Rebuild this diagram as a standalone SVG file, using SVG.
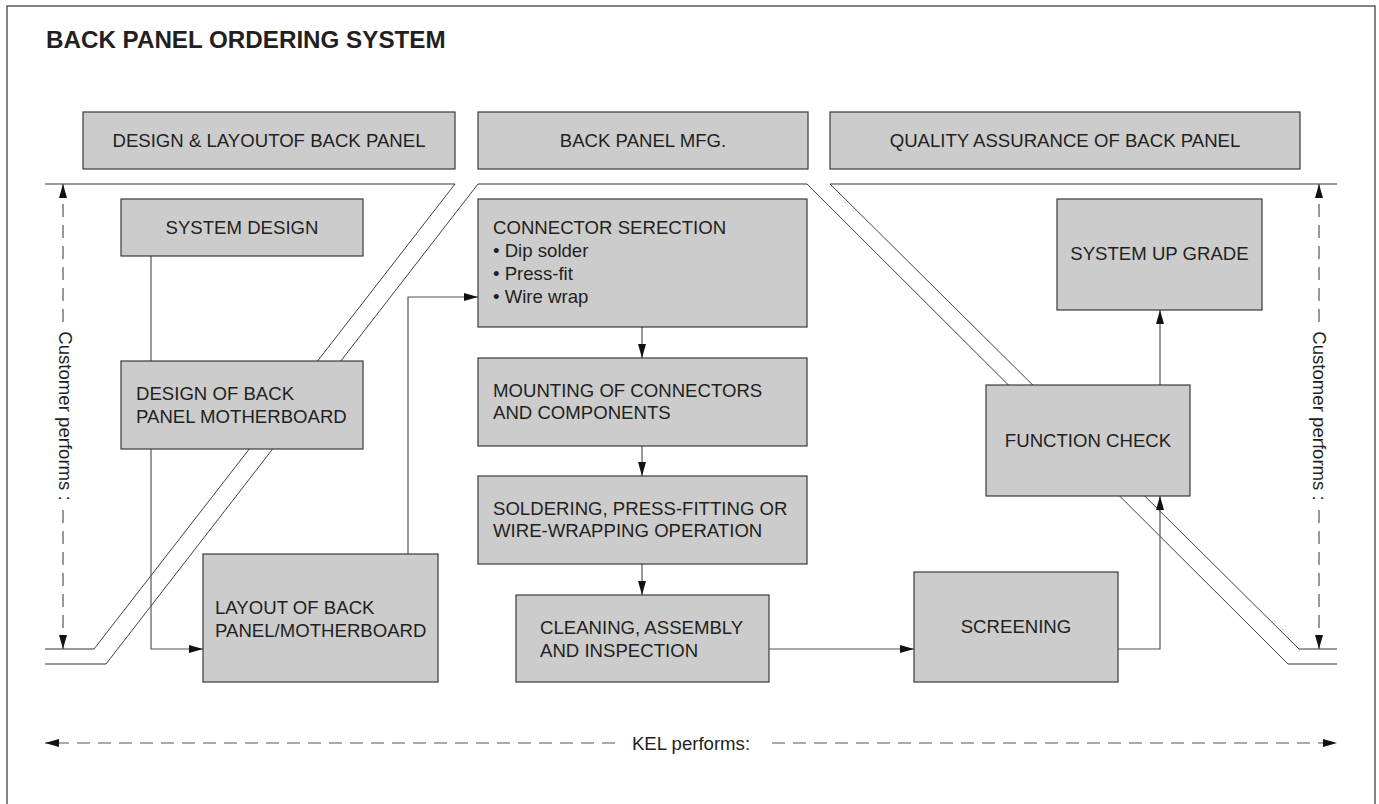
<svg xmlns="http://www.w3.org/2000/svg" width="1379" height="804" viewBox="0 0 1379 804">
<style>
text{font-family:"Liberation Sans",Arial,Helvetica,sans-serif;fill:#231f20;font-size:18.6px}
.title{font-weight:bold;font-size:24.2px}
.box{fill:#cccccc;stroke:#3a3a3a;stroke-width:1.2}
.hline{fill:none;stroke:#7a7a7a;stroke-width:1.6}
.diag{fill:none;stroke:#2a2a2a;stroke-width:0.9}
.conn{fill:none;stroke:#555;stroke-width:1.2}
.dash{fill:none;stroke:#555;stroke-width:1.2;stroke-dasharray:13 8}
.c{text-anchor:middle}
</style>
<defs>
<marker id="arr" viewBox="0 0 14 8" refX="14" refY="4" markerWidth="14" markerHeight="8" markerUnits="userSpaceOnUse" orient="auto"><path d="M0,0 L14,4 L0,8 z" fill="#111"/></marker>
</defs>
<rect x="7" y="6" width="1368" height="810" fill="#fff" stroke="#333" stroke-width="1.2"/>
<text class="title" x="46" y="48">BACK PANEL ORDERING SYSTEM</text>

<g id="regions">
<path class="hline" d="M45,184 H455 M94,649 H45 M45,664 H106 M478,184 H807 M1288,664 H1337 M1337,184 H830 M1299,649 H1337"/>
<path class="diag" d="M455,184 L94,649 M106,664 L478,184 M807,184 L1288,664 M830,184 L1299,649"/>
</g>

<g id="header-design">
<rect class="box" x="83" y="112" width="372" height="57"/>
<text class="c" x="269" y="147">DESIGN &amp; LAYOUTOF BACK PANEL</text>
</g>
<g id="header-mfg">
<rect class="box" x="478" y="112" width="330" height="57"/>
<text class="c" x="643" y="147">BACK PANEL MFG.</text>
</g>
<g id="header-qa">
<rect class="box" x="830" y="112" width="470" height="57"/>
<text class="c" x="1065" y="147">QUALITY ASSURANCE OF BACK PANEL</text>
</g>

<g id="connectors">
<line class="conn" x1="151" y1="256" x2="151" y2="361"/>
<path class="conn" d="M151,449 V649 H203" marker-end="url(#arr)"/>
<path class="conn" d="M408,554 V297 H478" marker-end="url(#arr)"/>
<path class="conn" d="M642,327 V358" marker-end="url(#arr)"/>
<path class="conn" d="M642,446 V476" marker-end="url(#arr)"/>
<path class="conn" d="M642,564 V595" marker-end="url(#arr)"/>
<path class="conn" d="M769,649 H914" marker-end="url(#arr)"/>
<path class="conn" d="M1118,649 H1160 V496" marker-end="url(#arr)"/>
<path class="conn" d="M1160,385 V310" marker-end="url(#arr)"/>
<path class="dash" d="M63,322 V184" marker-end="url(#arr)"/>
<path class="dash" d="M63,510 V649" marker-end="url(#arr)"/>
<path class="dash" d="M1319,322 V184" marker-end="url(#arr)"/>
<path class="dash" d="M1319,510 V649" marker-end="url(#arr)"/>
<path class="dash" d="M615,743 H45" marker-end="url(#arr)"/>
<path class="dash" d="M772,743 H1337" marker-end="url(#arr)"/>
</g>

<g id="system-design">
<rect class="box" x="121" y="199" width="242" height="57"/>
<text class="c" x="242" y="233.5">SYSTEM DESIGN</text>
</g>
<g id="design-motherboard">
<rect class="box" x="121" y="361" width="242" height="88"/>
<text x="136" y="400">DESIGN OF BACK</text>
<text x="136" y="423">PANEL MOTHERBOARD</text>
</g>
<g id="layout">
<rect class="box" x="203" y="554" width="235" height="128"/>
<text x="215" y="614">LAYOUT OF BACK</text>
<text x="215" y="637">PANEL/MOTHERBOARD</text>
</g>
<g id="connector-selection">
<rect class="box" x="478" y="199" width="329" height="128"/>
<text x="493" y="234">CONNECTOR SERECTION</text>
<text x="493" y="257">• Dip solder</text>
<text x="493" y="280">• Press-fit</text>
<text x="493" y="303">• Wire wrap</text>
</g>
<g id="mounting">
<rect class="box" x="478" y="358" width="329" height="88"/>
<text x="493" y="397">MOUNTING OF CONNECTORS</text>
<text x="493" y="419">AND COMPONENTS</text>
</g>
<g id="soldering">
<rect class="box" x="478" y="476" width="329" height="88"/>
<text x="493" y="515">SOLDERING, PRESS-FITTING OR</text>
<text x="493" y="537">WIRE-WRAPPING OPERATION</text>
</g>
<g id="cleaning">
<rect class="box" x="516" y="595" width="253" height="87"/>
<text x="540" y="634">CLEANING, ASSEMBLY</text>
<text x="540" y="657">AND INSPECTION</text>
</g>
<g id="screening">
<rect class="box" x="914" y="572" width="204" height="110"/>
<text class="c" x="1016" y="633">SCREENING</text>
</g>
<g id="function-check">
<rect class="box" x="986" y="385" width="204" height="111"/>
<text class="c" x="1088" y="447">FUNCTION CHECK</text>
</g>
<g id="system-upgrade">
<rect class="box" x="1057" y="199" width="205" height="111"/>
<text class="c" x="1159.5" y="260">SYSTEM UP GRADE</text>
</g>

<g id="labels">
<text class="c" transform="translate(58.5,416) rotate(90)">Customer performs :</text>
<text class="c" transform="translate(1312.5,416) rotate(90)">Customer performs :</text>
<text class="c" x="691" y="749.5">KEL performs:</text>
</g>
</svg>
